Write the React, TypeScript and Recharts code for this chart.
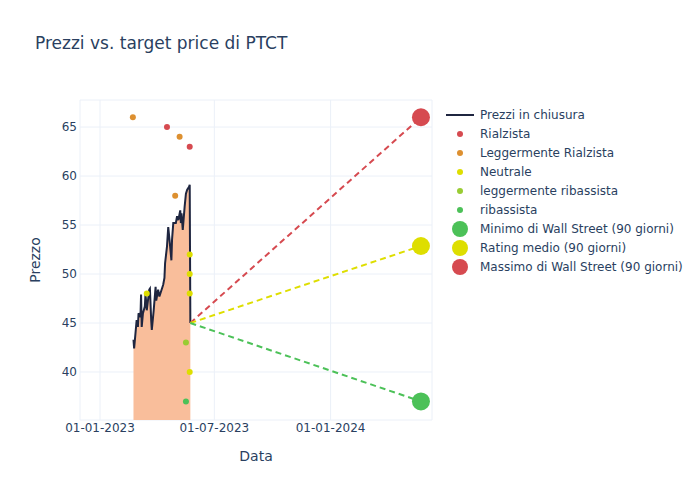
import { ComposedChart, XAxis, YAxis, CartesianGrid, Area, Line, Scatter } from 'recharts'

const priceDates = [
  '2023-02-23', '2023-02-24', '2023-02-28', '2023-03-02', '2023-03-03', '2023-03-06', '2023-03-07', '2023-03-08',
  '2023-03-10', '2023-03-13', '2023-03-14', '2023-03-16', '2023-03-20', '2023-03-21', '2023-03-23', '2023-03-24',
  '2023-03-27', '2023-03-30', '2023-03-31', '2023-04-03', '2023-04-05', '2023-04-10', '2023-04-11', '2023-04-13',
  '2023-04-14', '2023-04-17', '2023-04-19', '2023-04-21', '2023-04-24', '2023-04-25', '2023-04-27', '2023-05-01',
  '2023-05-03', '2023-05-05', '2023-05-08', '2023-05-09', '2023-05-10', '2023-05-12', '2023-05-15', '2023-05-17',
  '2023-05-19', '2023-05-22', '2023-05-23', '2023-05-24',
]
const priceValues = [
  43.3, 42.4, 45.3, 44.6, 46.0, 45.6, 47.9, 44.6, 46.0, 46.7,
  48.0, 46.3, 48.4, 48.5, 45.3, 44.3, 46.3, 48.7, 47.3, 48.4,
  47.7, 48.7, 48.9, 49.6, 51.1, 52.8, 54.8, 53.5, 51.4, 53.5,
  55.2, 55.2, 55.9, 55.5, 56.5, 55.2, 56.2, 54.5, 56.9, 58.2,
  58.6, 58.9, 59.1, 45.0,
]

const rialzistaDates = ['2023-04-17', '2023-05-23']
const rialzistaValues = [65, 63]
const leggRialzistaDates = ['2023-02-22', '2023-04-30', '2023-05-07']
const leggRialzistaValues = [66, 58, 64]
const neutraleDates = ['2023-03-16', '2023-05-23', '2023-05-23', '2023-05-23', '2023-05-23']
const neutraleValues = [48, 52, 50, 48, 40]
const leggRibassistaDates = ['2023-05-17']
const leggRibassistaValues = [43]
const ribassistaDates = ['2023-05-17']
const ribassistaValues = [37]

const lastDate = '2023-05-24'
const lastPrice = 45.0
const targetDate = '2024-05-23'
const targetLow = 37
const targetAvg = 52.86
const targetHigh = 66

const xTickDates = ['2023-01-01', '2023-07-01', '2024-01-01']
const yTicks = [40, 45, 50, 55, 60, 65]

const ts = (d: string) => Date.parse(d + 'T00:00:00Z')
const pts = (dates: string[], vals: number[]) => dates.map((d, i) => ({ t: ts(d), v: vals[i] }))

const priceData = pts(priceDates, priceValues)
const lowLine = pts([lastDate, targetDate], [lastPrice, targetLow])
const avgLine = pts([lastDate, targetDate], [lastPrice, targetAvg])
const highLine = pts([lastDate, targetDate], [lastPrice, targetHigh])

const RED = '#d64a50'
const ORANGE = '#dd9030'
const YELLOW = '#dede00'
const LIGHTGREEN = '#99cc33'
const GREEN = '#4cc158'
const TEXT = '#2a3f5f'
const FONT = '"DejaVu Sans", verdana, arial, sans-serif'

const dot = (r: number, fill: string) => (props: any) => <circle cx={props.cx} cy={props.cy} r={r} fill={fill} />

const fmtDate = (t: number) => {
  const d = new Date(t)
  const p = (n: number) => String(n).padStart(2, '0')
  return `${p(d.getUTCDate())}-${p(d.getUTCMonth() + 1)}-${d.getUTCFullYear()}`
}

const legendItems = [
  { name: 'Prezzi in chiusura', kind: 'line', color: '#1f2640' },
  { name: 'Rialzista', kind: 'small', color: RED },
  { name: 'Leggermente Rialzista', kind: 'small', color: ORANGE },
  { name: 'Neutrale', kind: 'small', color: YELLOW },
  { name: 'leggermente ribassista', kind: 'small', color: LIGHTGREEN },
  { name: 'ribassista', kind: 'small', color: GREEN },
  { name: 'Minimo di Wall Street (90 giorni)', kind: 'big', color: GREEN },
  { name: 'Rating medio (90 giorni)', kind: 'big', color: YELLOW },
  { name: 'Massimo di Wall Street (90 giorni)', kind: 'big', color: RED },
]

function LegendBox() {
  return (
    <svg width={254} height={180} style={{ position: 'absolute', left: 446, top: 105, overflow: 'visible' }}>
      {legendItems.map((it, i) => {
        const y = 10 + i * 19
        return (
          <g key={it.name}>
            {it.kind === 'line' && <line x1={0} x2={28} y1={y} y2={y} stroke={it.color} strokeWidth={2} />}
            {it.kind === 'small' && <circle cx={14} cy={y} r={3} fill={it.color} />}
            {it.kind === 'big' && <circle cx={14} cy={y} r={8} fill={it.color} />}
            <text x={34} y={y + 4} fontSize={12} fill={TEXT} fontFamily={FONT}>{it.name}</text>
          </g>
        )
      })}
    </svg>
  )
}

export default function App() {
  return (
    <div style={{ position: 'absolute', left: 0, top: 0, width: 700, height: 500, background: '#fff', fontFamily: FONT }}>
      <div style={{ position: 'absolute', left: 35, top: 33, fontSize: 17, color: TEXT }}>Prezzi vs. target price di PTCT</div>
      <div style={{ position: 'absolute', left: 256, top: 448, transform: 'translateX(-50%)', fontSize: 14, color: TEXT }}>Data</div>
      <div style={{ position: 'absolute', left: 35, top: 260, transform: 'translate(-50%, -50%) rotate(-90deg)', fontSize: 14, color: TEXT }}>Prezzo</div>
      <ComposedChart width={700} height={500} margin={{ top: 100, right: 268, bottom: 50, left: 0 }} style={{ position: 'absolute', left: 0, top: 0 }}>
        <CartesianGrid stroke="#ebf0f8" strokeWidth={1} />
        <XAxis
          dataKey="t"
          type="number"
          domain={[ts('2022-11-30') + 8 * 3600e3, ts('2024-06-09') + 12 * 3600e3]}
          allowDataOverflow
          ticks={xTickDates.map(ts)}
          tickFormatter={fmtDate}
          axisLine={false}
          tickLine={false}
          tickSize={0}
          tickMargin={3}
          tick={{ fontSize: 12, fill: TEXT, fontFamily: FONT }}
        />
        <YAxis
          dataKey="v"
          type="number"
          domain={[35.1, 67.76]}
          allowDataOverflow
          ticks={yTicks}
          width={80}
          axisLine={false}
          tickLine={false}
          tickSize={0}
          tickMargin={3}
          tick={{ fontSize: 12, fill: TEXT, fontFamily: FONT }}
        />
        <Area data={priceData} dataKey="v" type="linear" stroke="none" fill="#f9be9b" fillOpacity={1} isAnimationActive={false} />
        <Line data={priceData} dataKey="v" type="linear" stroke="#1f2640" strokeWidth={2} dot={false} isAnimationActive={false} />
        <Line data={highLine} dataKey="v" stroke={RED} strokeWidth={2} strokeDasharray="6 4" dot={false} isAnimationActive={false} />
        <Line data={avgLine} dataKey="v" stroke={YELLOW} strokeWidth={2} strokeDasharray="6 4" dot={false} isAnimationActive={false} />
        <Line data={lowLine} dataKey="v" stroke={GREEN} strokeWidth={2} strokeDasharray="6 4" dot={false} isAnimationActive={false} />
        <Scatter data={pts(rialzistaDates, rialzistaValues)} dataKey="v" shape={dot(3, RED)} isAnimationActive={false} />
        <Scatter data={pts(leggRialzistaDates, leggRialzistaValues)} dataKey="v" shape={dot(3, ORANGE)} isAnimationActive={false} />
        <Scatter data={pts(neutraleDates, neutraleValues)} dataKey="v" shape={dot(3, YELLOW)} isAnimationActive={false} />
        <Scatter data={pts(leggRibassistaDates, leggRibassistaValues)} dataKey="v" shape={dot(3, LIGHTGREEN)} isAnimationActive={false} />
        <Scatter data={pts(ribassistaDates, ribassistaValues)} dataKey="v" shape={dot(3, GREEN)} isAnimationActive={false} />
        <Scatter data={pts([targetDate], [targetLow])} dataKey="v" shape={dot(9, GREEN)} isAnimationActive={false} />
        <Scatter data={pts([targetDate], [targetAvg])} dataKey="v" shape={dot(9, YELLOW)} isAnimationActive={false} />
        <Scatter data={pts([targetDate], [targetHigh])} dataKey="v" shape={dot(9, RED)} isAnimationActive={false} />
      </ComposedChart>
      <LegendBox />
    </div>
  )
}
